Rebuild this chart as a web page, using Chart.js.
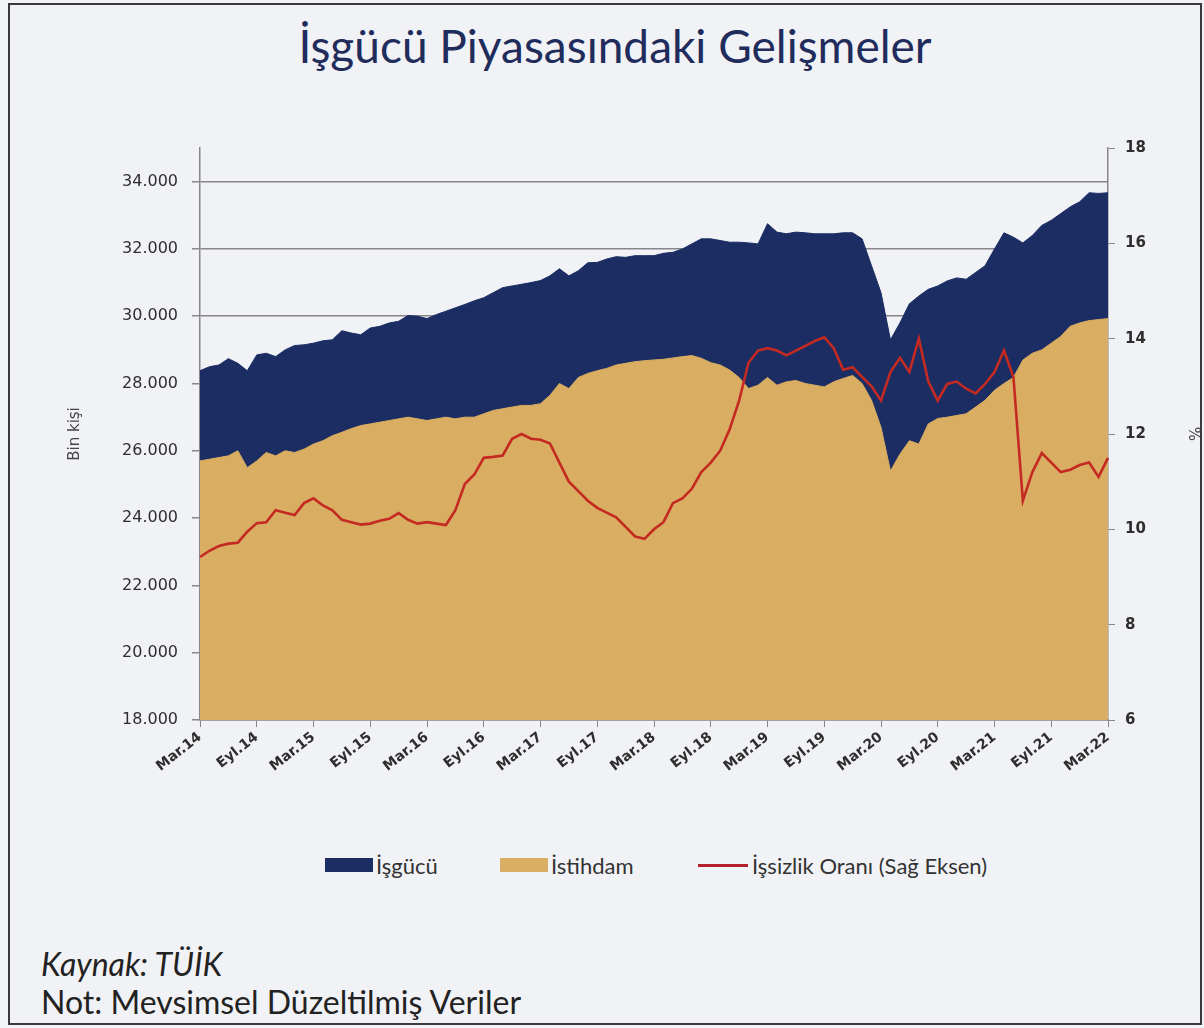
<!DOCTYPE html>
<html lang="tr">
<head>
<meta charset="utf-8">
<script src="https://cdn.jsdelivr.net/npm/chart.js@4.4.1/dist/chart.umd.min.js"></script>
<style>
  html, body { margin: 0; padding: 0; }
  body { width: 1204px; height: 1028px; position: relative; background: #f2f3f6; font-family: Lato, "Noto Sans", sans-serif; overflow: hidden; }
  #cerceve { position: absolute; left: 8px; top: 3px; width: 1190px; height: 1018px; border: 2px solid #3a3a3a; background: #f1f2f5; }
  #baslik { position: absolute; left: 13px; width: 1204px; top: 18px; text-align: center; font-size: 46px; color: #1f2c5c; }
  #grafik { position: absolute; left: 0; top: 120px; width: 1204px; height: 720px; }
  #lejant { position: absolute; top: 852px; left: 0; width: 1204px; height: 26px; font-size: 22px; color: #333; }
  .kalem { position: absolute; top: 0; display: flex; align-items: center; height: 26px; }
  .kutu { display: inline-block; width: 48px; height: 14px; margin-right: 3px; }
  .cizgi { display: inline-block; width: 50px; height: 3px; margin-right: 4px; background: #b3202c; }
  #kaynak { position: absolute; left: 41px; top: 944px; font-size: 32px; font-style: italic; color: #222; }
  #not { position: absolute; left: 41px; top: 982px; font-size: 32px; color: #222; }
</style>
</head>
<body>
<div id="cerceve"></div>
<div id="baslik">İşgücü Piyasasındaki Gelişmeler</div>
<div id="grafik"><canvas id="isgucuChart" width="1204" height="720"></canvas></div>
<div id="lejant">
  <span class="kalem" style="left:325px"><span class="kutu" style="background:#1b2d63"></span>İşgücü</span>
  <span class="kalem" style="left:500px"><span class="kutu" style="background:#d9ad62"></span>İstihdam</span>
  <span class="kalem" style="left:698px"><span class="cizgi"></span>İşsizlik Oranı (Sağ Eksen)</span>
</div>
<div id="kaynak">Kaynak: TÜİK</div>
<div id="not">Not: Mevsimsel Düzeltilmiş Veriler</div>
<script>
// aylar: Mart 2014 - Mart 2022
var aylar = ['Mar', 'Nis', 'May', 'Haz', 'Tem', 'Ağu', 'Eyl', 'Eki', 'Kas', 'Ara', 'Oca', 'Şub'];
var kategoriler = [];
for (var i = 0; i < 97; i++) {
    var yil = 14 + Math.floor((i + 2) / 12);
    kategoriler.push(aylar[i % 12] + '.' + yil);
}

// sol eksen etiketleri (bin kişi)
var solEksen = [18000, 20000, 22000, 24000, 26000, 28000, 30000, 32000, 34000];

// bin kişi
var isgucu = [28380, 28500, 28550, 28740, 28600, 28380, 28850, 28900, 28800, 29000,
    29130, 29150, 29200, 29270, 29300, 29570, 29500, 29450, 29650, 29700,
    29800, 29850, 30020, 30000, 29930, 30050, 30150, 30250, 30350, 30460,
    30550, 30700, 30850, 30900, 30950, 31000, 31060, 31200, 31410, 31200,
    31350, 31590, 31600, 31700, 31770, 31750, 31800, 31800, 31800, 31870,
    31900, 32000, 32150, 32300, 32300, 32250, 32200, 32200, 32180, 32150,
    32750, 32500, 32450, 32500, 32480, 32450, 32450, 32450, 32480, 32480,
    32300, 31500, 30700, 29300, 29800, 30370, 30600, 30800, 30900, 31050,
    31140, 31100, 31300, 31500, 32000, 32480, 32350, 32180, 32400, 32700,
    32850, 33050, 33250, 33400, 33670, 33650, 33670];

var istihdam = [25700, 25750, 25800, 25850, 26000, 25500, 25700, 25950, 25850, 26000,
    25950, 26050, 26200, 26300, 26450, 26550, 26660, 26750, 26800, 26850,
    26900, 26950, 27000, 26950, 26900, 26950, 27000, 26950, 27000, 27000,
    27100, 27200, 27250, 27300, 27350, 27350, 27400, 27650, 28000, 27850,
    28180, 28300, 28380, 28450, 28550, 28600, 28650, 28680, 28700, 28720,
    28760, 28800, 28830, 28750, 28620, 28550, 28400, 28180, 27850, 27950,
    28180, 27950, 28050, 28090, 28000, 27950, 27900, 28050, 28150, 28240,
    28000, 27500, 26700, 25400, 25900, 26300, 26200, 26800, 26960, 27000,
    27050, 27100, 27300, 27500, 27800, 28000, 28180, 28700, 28900, 29000,
    29200, 29400, 29700, 29800, 29870, 29900, 29930];

// yüzde, sağ eksen
var issizlikOrani = [9.42, 9.55, 9.65, 9.70, 9.72, 9.95, 10.13, 10.15, 10.40, 10.35,
    10.30, 10.55, 10.65, 10.50, 10.40, 10.20, 10.15, 10.10, 10.12, 10.18,
    10.22, 10.34, 10.20, 10.12, 10.15, 10.12, 10.09, 10.40, 10.95, 11.15,
    11.50, 11.52, 11.55, 11.90, 12.00, 11.90, 11.88, 11.80, 11.40, 11.00,
    10.80, 10.60, 10.45, 10.35, 10.25, 10.05, 9.85, 9.80, 10.00, 10.15,
    10.55, 10.65, 10.85, 11.20, 11.40, 11.65, 12.10, 12.70, 13.50, 13.75,
    13.80, 13.75, 13.65, 13.75, 13.85, 13.95, 14.03, 13.80, 13.35, 13.40,
    13.20, 13.00, 12.70, 13.30, 13.60, 13.30, 14.00, 13.10, 12.70, 13.05,
    13.10, 12.95, 12.85, 13.05, 13.30, 13.75, 13.20, 10.60, 11.20, 11.60,
    11.40, 11.20, 11.25, 11.35, 11.40, 11.10, 11.50];

function binlik(v) {
    return String(v).replace(/\B(?=(\d{3})+(?!\d))/g, '.');
}

var ctx = document.getElementById('isgucuChart').getContext('2d');
var gri = '#86868c';

var isgucuChart = new Chart(ctx, {
    type: 'line',
    data: {
        labels: kategoriler,
        datasets: [{
            label: 'İşsizlik Oranı (Sağ Eksen)',
            data: issizlikOrani,
            yAxisID: 'y2',
            borderColor: '#c42a22',
            borderWidth: 2.6,
            pointRadius: 0,
            fill: false,
            order: 0
        }, {
            label: 'İstihdam',
            data: istihdam,
            yAxisID: 'y',
            borderColor: '#d9ad62',
            backgroundColor: '#d9ad62',
            borderWidth: 1,
            pointRadius: 0,
            fill: 'start',
            order: 1
        }, {
            label: 'İşgücü',
            data: isgucu,
            yAxisID: 'y',
            borderColor: '#1b2d63',
            backgroundColor: '#1b2d63',
            borderWidth: 1,
            pointRadius: 0,
            fill: 'start',
            order: 2
        }]
    },
    options: {
        responsive: false,
        animation: false,
        maintainAspectRatio: false,
        layout: { padding: { top: 28, left: 0, right: 0, bottom: 0 } },
        plugins: {
            legend: { display: false },
            tooltip: { enabled: false }
        },
        scales: {
            x: {
                offset: false,
                grid: { drawOnChartArea: false, drawTicks: true, tickLength: 7, color: gri },
                border: { color: gri, width: 1.5 },
                ticks: {
                    autoSkip: false,
                    minRotation: 38,
                    maxRotation: 38,
                    padding: 2,
                    color: '#2e2e2e',
                    font: { family: 'DejaVu Sans', size: 14, weight: 'bold' },
                    callback: function (val, idx) {
                        return idx % 6 === 0 ? kategoriler[idx] : null;
                    }
                },
                afterFit: function (scale) { scale.height = 120; }
            },
            y: {
                position: 'left',
                min: 18000,
                max: 35000,
                afterBuildTicks: function (scale) {
                    scale.ticks = solEksen.map(function (v) { return { value: v }; });
                },
                grid: { color: gri, lineWidth: 1.5, tickLength: 8 },
                border: { color: gri, width: 1.5 },
                ticks: {
                    padding: 14,
                    color: '#2e2e2e',
                    font: { family: 'DejaVu Sans', size: 16 },
                    callback: function (v) { return binlik(v); }
                },
                title: {
                    display: true,
                    text: 'Bin kişi',
                    color: '#444',
                    font: { family: 'DejaVu Sans', size: 15 },
                    padding: { top: 66, bottom: 0 }
                },
                afterFit: function (scale) { scale.width = 200; }
            },
            y2: {
                position: 'right',
                min: 6,
                max: 18,
                grid: { drawOnChartArea: false, tickLength: 7, color: gri },
                border: { color: gri, width: 1.5 },
                ticks: {
                    stepSize: 2,
                    padding: 10,
                    color: '#2e2e2e',
                    font: { family: 'DejaVu Sans', size: 15, weight: 'bold' }
                },
                title: {
                    display: true,
                    text: '%',
                    color: '#444',
                    font: { family: 'DejaVu Sans', size: 15 },
                    padding: { top: 2, bottom: 0 }
                },
                afterFit: function (scale) { scale.width = 96; }
            }
        }
    }
});
</script>
</body>
</html>
